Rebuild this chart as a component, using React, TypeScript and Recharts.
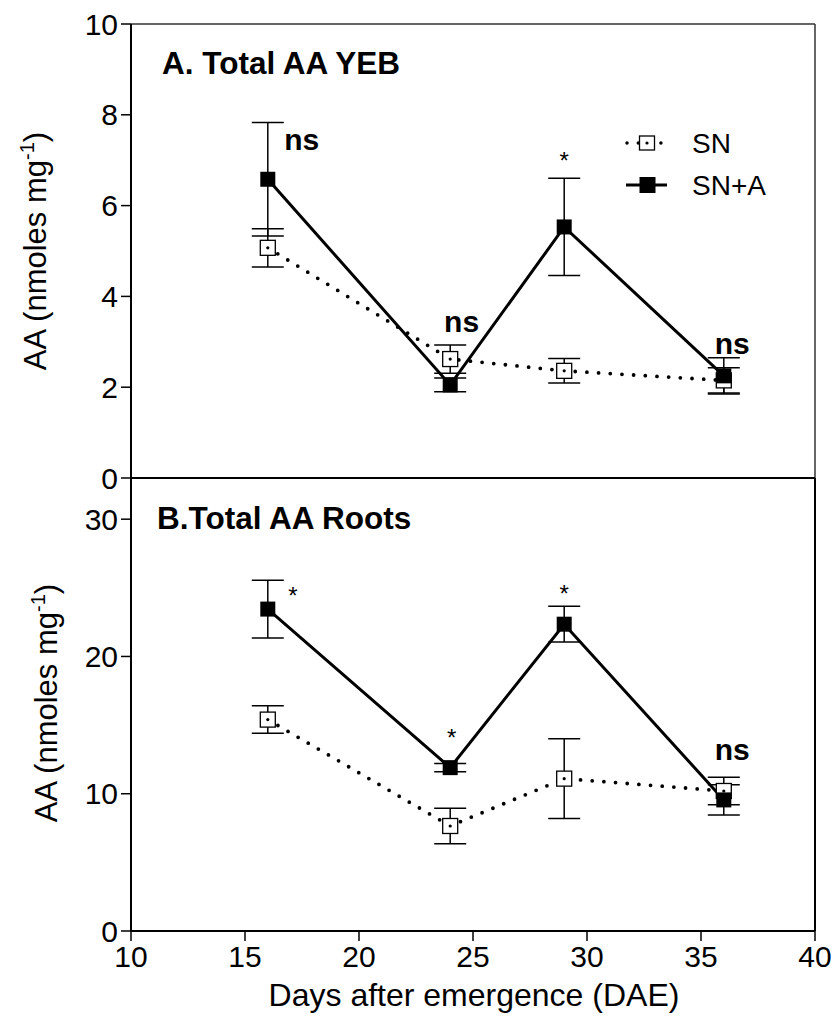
import React from 'react';
import {
  ComposedChart, Line, Scatter, XAxis, YAxis, ErrorBar, ReferenceLine, Legend, Customized,
} from 'recharts';

const FONT = '"Liberation Sans", Arial, Helvetica, sans-serif';

// ---- data ----
const days = [16, 24, 29, 36];

const yebSN = [5.07, 2.62, 2.36, 2.15];
const yebSNErr = [0.42, 0.31, 0.27, 0.28];
const yebSNA = [6.58, 2.05, 5.53, 2.25];
const yebSNAErr = [1.25, 0.15, 1.07, 0.4];

const rootSN = [15.4, 7.65, 11.1, 10.2];
const rootSNErr = [1.0, 1.3, 2.9, 1.0];
const rootSNA = [23.45, 11.9, 22.35, 9.55];
const rootSNAErr = [2.1, 0.3, 1.3, 1.1];

const xTicks = [10, 15, 20, 25, 30, 35, 40];
const yebTicks = [0, 2, 4, 6, 8, 10];
const rootTicks = [0, 10, 20, 30];

const yebNoteDays = [17.49, 24.5, 29.0, 36.37];
const yebNoteValues = [7.4, 3.39, 7.11, 2.91];
const yebNoteTexts = ['ns', 'ns', '*', 'ns'];

const rootNoteDays = [17.1, 24.06, 29.0, 36.37];
const rootNoteValues = [24.8, 14.5, 25.0, 13.0];
const rootNoteTexts = ['*', '*', '*', 'ns'];

const seriesNames = ['SN', 'SN+A'];

const build = (vals: number[], errs: number[]) =>
  days.map((d, i) => ({ day: d, value: vals[i], err: errs[i] }));
const buildNotes = (ds: number[], vs: number[], ts: string[]) =>
  ds.map((d, i) => ({ day: d, value: vs[i], text: ts[i] }));

const yebSNData = build(yebSN, yebSNErr);
const yebSNAData = build(yebSNA, yebSNAErr);
const rootSNData = build(rootSN, rootSNErr);
const rootSNAData = build(rootSNA, rootSNAErr);
const yebNotes = buildNotes(yebNoteDays, yebNoteValues, yebNoteTexts);
const rootNotes = buildNotes(rootNoteDays, rootNoteValues, rootNoteTexts);

// ---- shapes ----
const SNDot = (props: any) => {
  const { cx, cy } = props;
  if (cx == null || cy == null) return null;
  return (
    <g>
      <rect x={cx - 7.5} y={cy - 7.5} width={15} height={15} fill="#fff" stroke="#000" strokeWidth={1.3} />
      <circle cx={cx} cy={cy} r={1.6} fill="#000" />
    </g>
  );
};

const SNADot = (props: any) => {
  const { cx, cy } = props;
  if (cx == null || cy == null) return null;
  return <rect x={cx - 7.5} y={cy - 7.5} width={15} height={15} fill="#000" />;
};

const NoteShape = (props: any) => {
  const { cx, cy, payload } = props;
  const t = payload.text;
  const bold = t !== '*';
  const fs = bold ? 30 : 24;
  const dy = bold ? 0.26 * fs : 0.58 * fs;
  return (
    <text x={cx} y={cy + dy} textAnchor="middle" fontSize={fs} fontWeight={bold ? 'bold' : 'normal'}
      fontFamily={FONT} fill="#000">{t}</text>
  );
};

const LegendContent = () => (
  <svg width={200} height={90} style={{ display: 'block' }}>
    {/* SN */}
    <line x1={7} y1={23} x2={43} y2={23} stroke="#000" strokeWidth={3.5} strokeDasharray="0 11.3" strokeLinecap="round" />
    <rect x={19.5} y={16} width={15} height={14} fill="#fff" stroke="#000" strokeWidth={1.3} />
    <circle cx={27} cy={23} r={1.6} fill="#000" />
    <text x={72} y={33} fontSize={28} fontFamily={FONT} fill="#000">{seriesNames[0]}</text>
    {/* SN+A */}
    <line x1={6} y1={65} x2={47} y2={65} stroke="#000" strokeWidth={3} />
    <rect x={19.5} y={57} width={16} height={16} fill="#000" />
    <text x={72} y={75} fontSize={28} fontFamily={FONT} fill="#000">{seriesNames[1]}</text>
  </svg>
);

const YLabel = ({ x, y }: { x: number; y: number }) => (
  <text x={x} y={y} transform={`rotate(-90, ${x}, ${y})`} textAnchor="middle" fontSize={31}
    fontFamily={FONT} fill="#000">
    AA (nmoles mg<tspan dy={-12} fontSize={20}>-1</tspan><tspan dy={12}>)</tspan>
  </text>
);

const tickStyle = { fontSize: 30, fontFamily: FONT, fill: '#000' };

export default function App() {
  return (
    <div style={{ position: 'absolute', left: 0, top: 0, width: 835, height: 1026, background: '#fff' }}>
      <div style={{ position: 'absolute', left: 0, top: 0 }}>
        <ComposedChart width={835} height={500} margin={{ top: 24, right: 20, bottom: 22, left: 0 }}>
          <XAxis type="number" dataKey="day" domain={[10, 40]} hide allowDataOverflow />
          <YAxis type="number" dataKey="value" domain={[0, 10]} ticks={yebTicks} width={131} interval={0}
            tick={tickStyle} tickSize={10} tickMargin={3}
            axisLine={{ stroke: '#000', strokeWidth: 2 }} tickLine={{ stroke: '#000', strokeWidth: 1.5 }} />
          <ReferenceLine y={10} stroke="#333" strokeWidth={1.5} />
          <ReferenceLine x={40} stroke="#333" strokeWidth={1.5} />
          <ReferenceLine y={0} stroke="#000" strokeWidth={2.2} />
          <Line data={yebSNData} dataKey="value" stroke="#000" strokeWidth={3.8} strokeDasharray="0 11.7"
            strokeLinecap="round" dot={<SNDot />} activeDot={false} isAnimationActive={false}>
            <ErrorBar dataKey="err" width={16} stroke="#000" strokeWidth={1.5} direction="y" />
          </Line>
          <Line data={yebSNAData} dataKey="value" stroke="#000" strokeWidth={3} dot={<SNADot />}
            activeDot={false} isAnimationActive={false}>
            <ErrorBar dataKey="err" width={16} stroke="#000" strokeWidth={1.5} direction="y" />
          </Line>
          <Scatter data={yebNotes} dataKey="value" shape={<NoteShape />} isAnimationActive={false} />
          <Legend layout="vertical" align="center" verticalAlign="middle" content={<LegendContent />}
            wrapperStyle={{ left: 620, top: 120, width: 200, height: 90 }} />
          <Customized component={() => (
            <g>
              <text x={162} y={74} fontSize={31.5} fontWeight="bold" fontFamily={FONT} fill="#000">A. Total AA YEB</text>
              <YLabel x={46} y={251} />
            </g>
          )} />
        </ComposedChart>
      </div>
      <div style={{ position: 'absolute', left: 0, top: 478 }}>
        <ComposedChart width={835} height={548} margin={{ top: 0, right: 20, bottom: 0, left: 0 }}>
          <XAxis type="number" dataKey="day" domain={[10, 40]} ticks={xTicks} height={95} interval={0}
            tick={tickStyle} tickSize={10} tickMargin={5} allowDataOverflow
            axisLine={{ stroke: '#000', strokeWidth: 2.2 }} tickLine={{ stroke: '#000', strokeWidth: 1.5 }} />
          <YAxis type="number" dataKey="value" domain={[0, 33]} ticks={rootTicks} width={131} interval={0}
            tick={tickStyle} tickSize={10} tickMargin={3} allowDataOverflow
            axisLine={{ stroke: '#000', strokeWidth: 2 }} tickLine={{ stroke: '#000', strokeWidth: 1.5 }} />
          <ReferenceLine x={40} stroke="#000" strokeWidth={2} />
          <Line data={rootSNData} dataKey="value" stroke="#000" strokeWidth={3.8} strokeDasharray="0 11.7"
            strokeLinecap="round" dot={<SNDot />} activeDot={false} isAnimationActive={false}>
            <ErrorBar dataKey="err" width={16} stroke="#000" strokeWidth={1.5} direction="y" />
          </Line>
          <Line data={rootSNAData} dataKey="value" stroke="#000" strokeWidth={3} dot={<SNADot />}
            activeDot={false} isAnimationActive={false}>
            <ErrorBar dataKey="err" width={16} stroke="#000" strokeWidth={1.5} direction="y" />
          </Line>
          <Scatter data={rootNotes} dataKey="value" shape={<NoteShape />} isAnimationActive={false} />
          <Customized component={() => (
            <g>
              <text x={157} y={51} fontSize={31.5} fontWeight="bold" fontFamily={FONT} fill="#000">B.Total AA Roots</text>
              <YLabel x={57} y={225} />
              <text x={474} y={528} textAnchor="middle" fontSize={32} fontFamily={FONT} fill="#000">Days after emergence (DAE)</text>
            </g>
          )} />
        </ComposedChart>
      </div>
    </div>
  );
}
